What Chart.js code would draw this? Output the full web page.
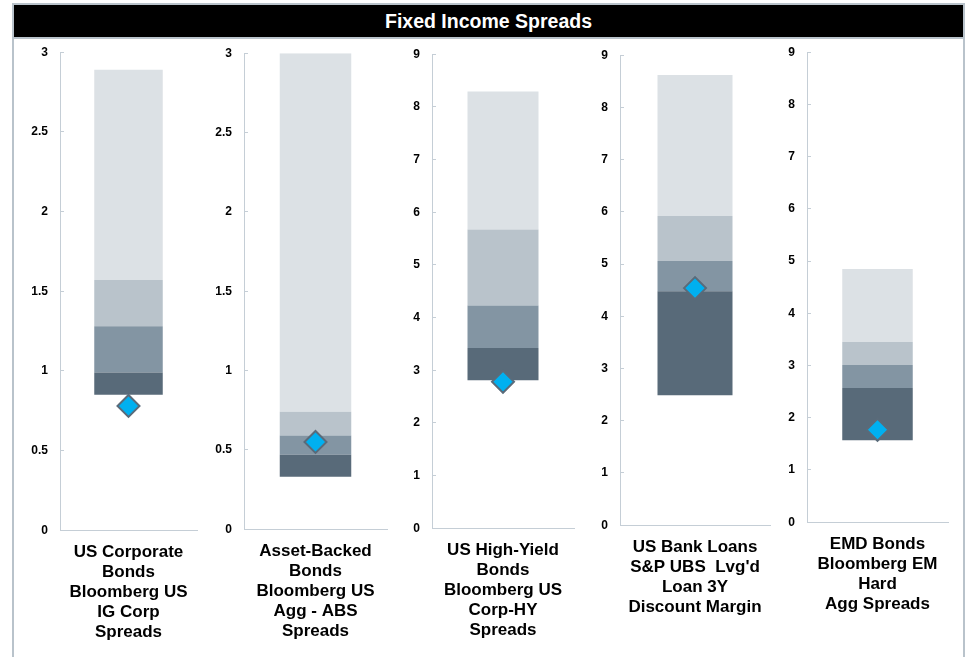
<!DOCTYPE html>
<html>
<head>
<meta charset="utf-8">
<script src="https://cdn.jsdelivr.net/npm/chart.js@4"></script>
<style>
  html, body { margin: 0; padding: 0; background: #ffffff; }
  body { width: 968px; height: 657px; position: relative; overflow: hidden; font-family: "Liberation Sans", Arial, sans-serif; }
  .frame { position: absolute; left: 12px; top: 3px; width: 949px; height: 700px; border: 2px solid #B9C3CB; box-sizing: content-box; }
  .title { position: absolute; left: 0; top: 0; width: 949px; height: 32px; background: #000; color: #fff;
           font: bold 19.5px "Liberation Sans", Arial, sans-serif; text-align: center; line-height: 32px;
           border-bottom: 2px solid #B9C3CB; }
  .panel { position: absolute; }
</style>
</head>
<body>
<div class="frame"><div class="title">Fixed Income Spreads</div></div>
<div id="panels"></div>
<script>
// ---- Data ----
const categories = [
  ["US Corporate", "Bonds", "Bloomberg US", "IG Corp", "Spreads"],
  ["Asset-Backed", "Bonds", "Bloomberg US", "Agg - ABS", "Spreads"],
  ["US High-Yield", "Bonds", "Bloomberg US", "Corp-HY", "Spreads"],
  ["US Bank Loans", "S&P UBS  Lvg'd", "Loan 3Y", "Discount Margin"],
  ["EMD Bonds", "Bloomberg EM", "Hard", "Agg Spreads"]
];
const minVals     = [0.85, 0.33, 2.81, 2.49, 1.57];
const q1Vals      = [0.99, 0.47, 3.42, 4.48, 2.57];
const medianVals  = [1.28, 0.59, 4.23, 5.06, 3.01];
const q3Vals      = [1.57, 0.74, 5.67, 5.92, 3.45];
const maxVals     = [2.89, 3.00, 8.29, 8.62, 4.85];
const currentVals = [0.78, 0.55, 2.78, 4.54, 1.77];
const yMaxVals    = [3, 3, 9, 9, 9];
const yStepVals   = [0.5, 0.5, 1, 1, 1];

// ---- Layout of each panel (pixel geometry of plot areas) ----
const geometry = [
  { axisX: 60,  rightX: 197, topY: 52, bottomY: 530 },
  { axisX: 244, rightX: 387, topY: 53, bottomY: 529 },
  { axisX: 432, rightX: 574, topY: 54, bottomY: 528 },
  { axisX: 620, rightX: 770, topY: 55, bottomY: 525 },
  { axisX: 807, rightX: 948, topY: 52, bottomY: 522 }
];

const Y_AXIS_W = 50, PAD_TOP = 14, PAD_RIGHT = 4, X_AXIS_H = 120;
const colors = { s1: '#586A79', s2: '#8395A3', s3: '#B9C3CB', s4: '#DCE1E5', dot: '#00B0F0', dotBorder: '#5A6B7A', axis: '#C5CED6' };
const fontFamily = '"Liberation Sans", Arial, sans-serif';

const host = document.getElementById('panels');
categories.forEach((cat, i) => {
  const g = geometry[i];
  let box = {
    left: g.axisX - Y_AXIS_W,
    top: g.topY - PAD_TOP,
    width: (g.rightX - g.axisX) + Y_AXIS_W + PAD_RIGHT,
    height: (g.bottomY - g.topY) + PAD_TOP + X_AXIS_H
  };
  const div = document.createElement('div');
  div.className = 'panel';
  const applyBox = () => {
    div.style.left = box.left + 'px';
    div.style.top = box.top + 'px';
    div.style.width = box.width + 'px';
    div.style.height = box.height + 'px';
  };
  applyBox();
  const cv = document.createElement('canvas');
  div.appendChild(cv);
  host.appendChild(div);

  const barBase = { type: 'bar', grouped: false, barPercentage: 1, categoryPercentage: 0.5, borderWidth: 0, order: 2 };
  const chart = new Chart(cv, {
    data: {
      labels: [cat],
      datasets: [
        { type: 'line', data: [currentVals[i]], showLine: false, pointStyle: 'rectRot', pointRadius: 11,
          pointBackgroundColor: colors.dot, pointBorderColor: colors.dotBorder, pointBorderWidth: 2, order: 0 },
        Object.assign({}, barBase, { data: [[minVals[i], q1Vals[i]]], backgroundColor: colors.s1 }),
        Object.assign({}, barBase, { data: [[q1Vals[i], medianVals[i]]], backgroundColor: colors.s2 }),
        Object.assign({}, barBase, { data: [[medianVals[i], q3Vals[i]]], backgroundColor: colors.s3 }),
        Object.assign({}, barBase, { data: [[q3Vals[i], maxVals[i]]], backgroundColor: colors.s4 })
      ]
    },
    options: {
      responsive: true,
      maintainAspectRatio: false,
      animation: false,
      layout: { padding: { top: PAD_TOP, right: PAD_RIGHT, left: 0, bottom: 0 } },
      plugins: { legend: { display: false }, tooltip: { enabled: false }, title: { display: false } },
      scales: {
        x: {
          type: 'category',
          grid: { display: false, drawTicks: false },
          border: { display: true, color: colors.axis, width: 1 },
          ticks: { color: '#000', padding: 12, maxRotation: 0, autoSkip: false,
                   font: { family: fontFamily, size: 17, weight: 'bold', lineHeight: '20px' } },
          afterFit: (s) => { s.height = X_AXIS_H; }
        },
        y: {
          min: 0, max: yMaxVals[i],
          grid: { drawOnChartArea: false, drawTicks: true, tickLength: -4, color: colors.axis },
          border: { display: true, color: colors.axis, width: 1 },
          ticks: { stepSize: yStepVals[i], color: '#000', padding: 16,
                   font: { family: fontFamily, size: 12, weight: 'bold' },
                   callback: (v) => String(Math.round(v * 100) / 100) },
          afterFit: (s) => { s.width = Y_AXIS_W; }
        }
      }
    }
  });

  // Align the plot area with the reference geometry (two correction passes)
  for (let pass = 0; pass < 3; pass++) {
    const ca = chart.chartArea;
    const L = box.left + ca.left, T = box.top + ca.top;
    const W = ca.right - ca.left, H = ca.bottom - ca.top;
    box.left += g.axisX - L;
    box.top += g.topY - T;
    box.width += (g.rightX - g.axisX) - W;
    box.height += (g.bottomY - g.topY) - H;
    applyBox();
    chart.resize(box.width, box.height);
  }
});
</script>
</body>
</html>
